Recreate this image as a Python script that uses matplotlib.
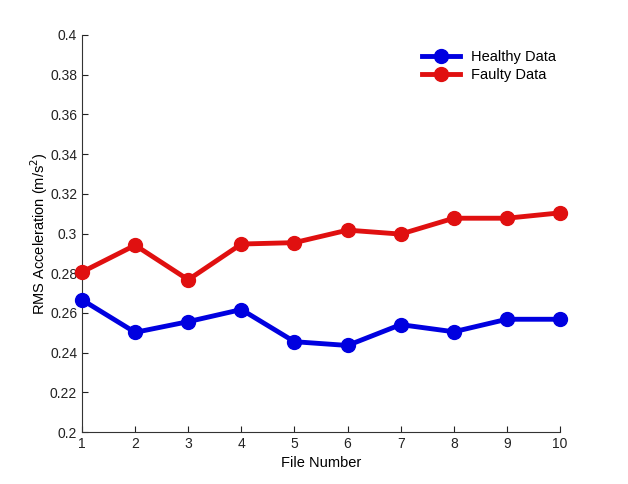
import numpy as np
import matplotlib.pyplot as plt

plt.rcParams['font.family'] = ['Liberation Sans', 'DejaVu Sans']

# File numbers and RMS values
file_no = [1, 2, 3, 4, 5, 6, 7, 8, 9, 10]
healthy = [0.2666, 0.2502, 0.2556, 0.2617, 0.2455, 0.2436, 0.2541, 0.2505, 0.2568, 0.2568]
faulty = [0.2806, 0.2941, 0.2767, 0.2947, 0.2954, 0.3017, 0.2997, 0.3077, 0.3077, 0.3104]

fig = plt.figure(figsize=(6.28, 4.84), dpi=100)
ax = fig.add_axes([0.1306, 0.1074, 0.7611, 0.8203])

ax.plot(file_no, healthy, '-o', color='#0000e0', lw=3.5, ms=10,
        label='Healthy Data', clip_on=False, zorder=3)
ax.plot(file_no, faulty, '-o', color='#e01010', lw=3.5, ms=10,
        label='Faulty Data', clip_on=False, zorder=3)

ax.set_xlim(1, 10)
ax.set_ylim(0.2, 0.4)
ax.set_xticks(file_no)
yt = np.arange(0.2, 0.4001, 0.02)
ax.set_yticks(yt)
ax.set_yticklabels([f'{v:.2f}'.rstrip('0').rstrip('.') for v in yt])

for s in ['top', 'right']:
    ax.spines[s].set_visible(False)
for s in ['left', 'bottom']:
    ax.spines[s].set_color('#333333')
    ax.spines[s].set_linewidth(0.8)
ax.tick_params(direction='in', length=4, labelsize=10, colors='#222222')

ax.set_xlabel('File Number', fontsize=10.5)
ax.set_ylabel('RMS Acceleration (m/s$^2$)', fontsize=10.5, labelpad=0)

ax.legend(loc='upper right', bbox_to_anchor=(1.02, 0.995), frameon=False,
          fontsize=10.5, handlelength=2.6, labelspacing=0.25)

fig.savefig('out.png', dpi=100, facecolor='white')
